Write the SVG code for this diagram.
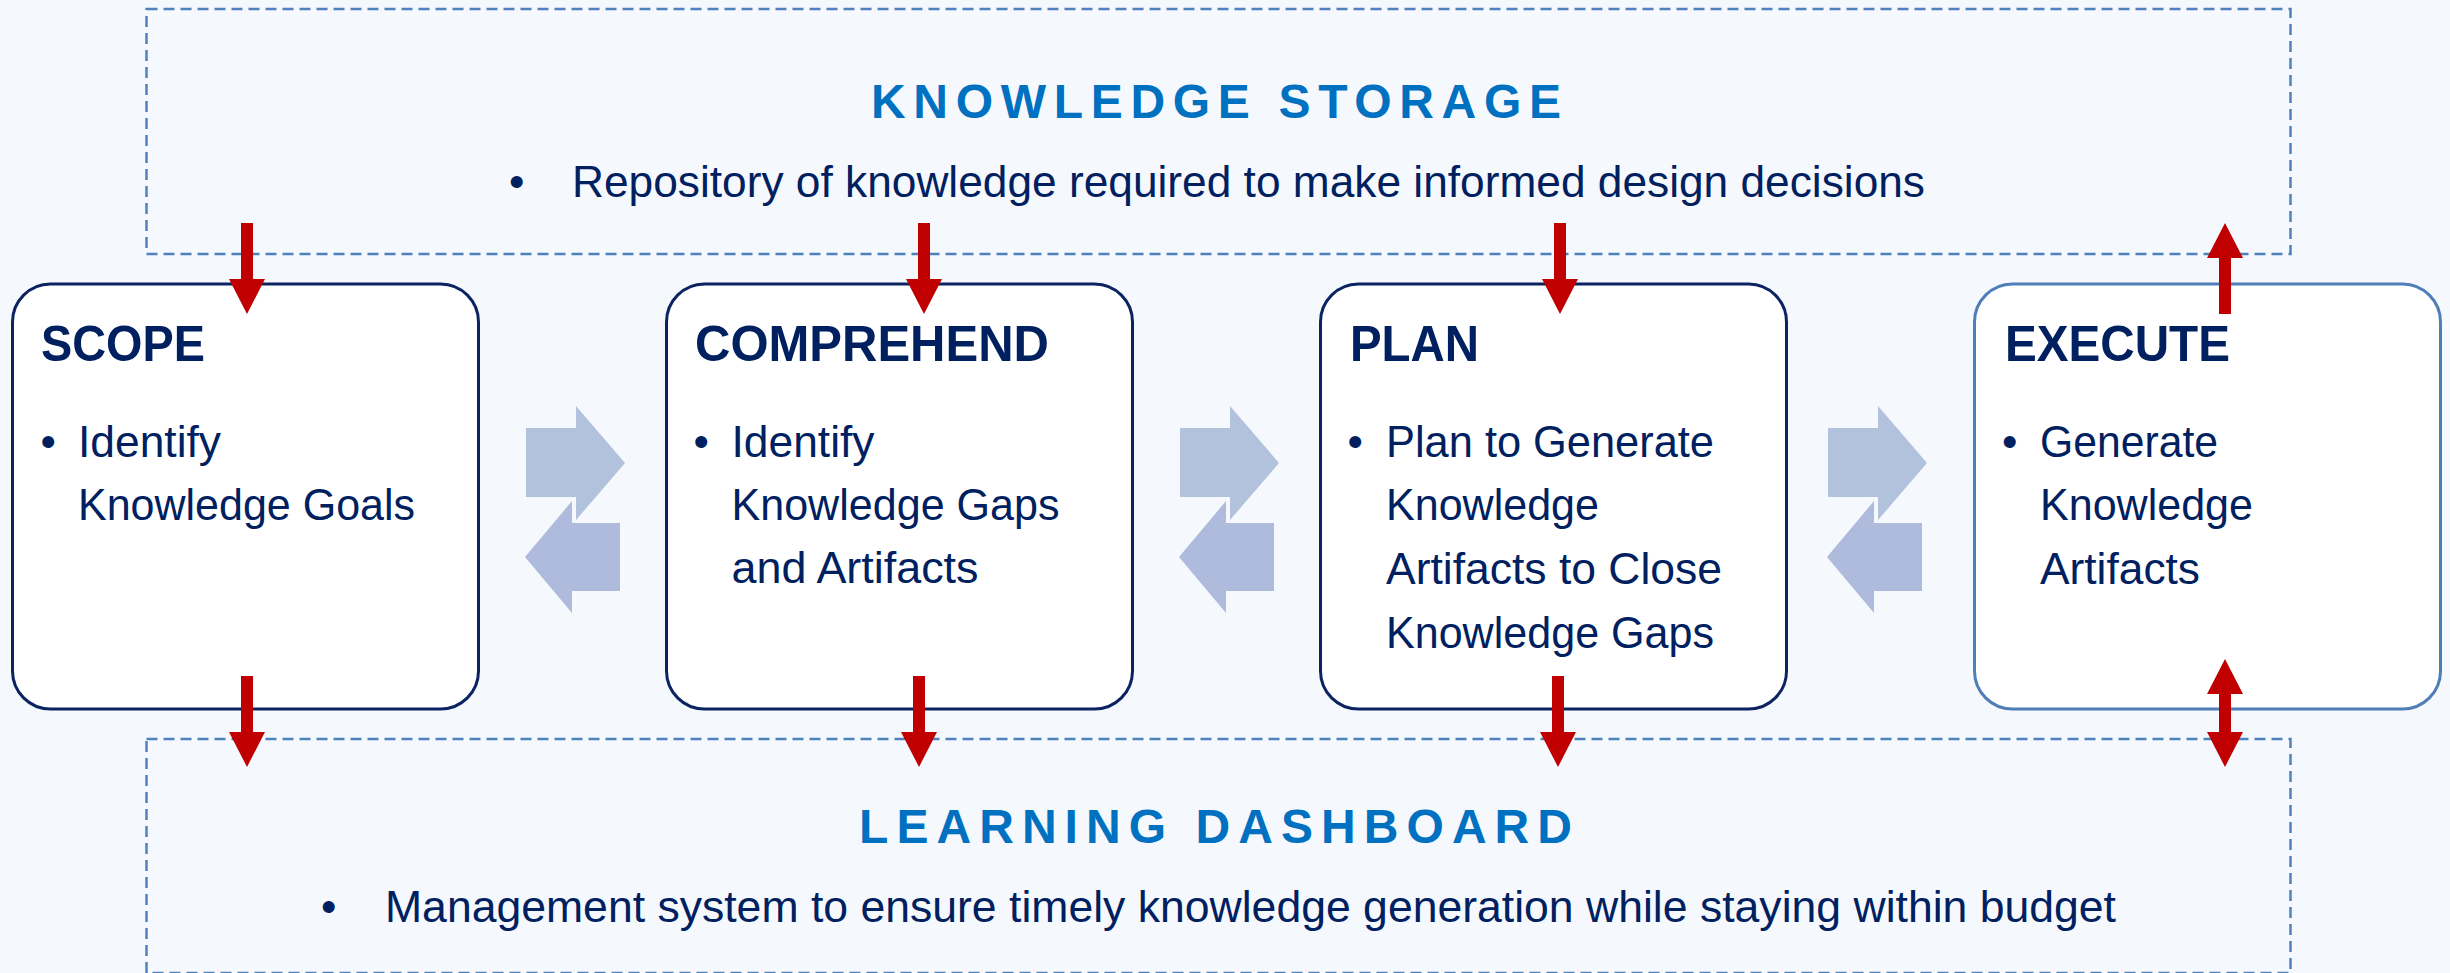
<svg xmlns="http://www.w3.org/2000/svg" xmlns:xlink="http://www.w3.org/1999/xlink" width="2450" height="973" viewBox="0 0 2450 973">
  <style>
    .txt { font-family: "Liberation Sans", Arial, sans-serif; fill: #002060; }
    .body { font-size: 44px; }
    .ttl { font-size: 50px; font-weight: bold; }
    .head { font-family: "Liberation Sans", Arial, sans-serif; font-size: 48px; font-weight: bold; fill: #0070C0; }
    .zone { fill: none; stroke: #4F81BD; stroke-width: 2.5; stroke-dasharray: 11 6; }
    .box { fill: #FFFFFF; stroke: #0B2361; stroke-width: 3; }
    .box-alt { fill: #FFFFFF; stroke: #4F7DB8; stroke-width: 3; }
    .flow { fill: #C00000; }
    .fwd { fill: #B2C1DC; }
    .back { fill: #AEBBDC; }
  </style>
  <defs>
    <!-- red arrow, shaft top at origin, pointing down -->
    <path id="arrowDown" d="M-6,0 H6 V56 H18 L0,91 L-18,56 H-6 Z"/>
    <!-- pair of pale exchange arrows between neighbouring steps -->
    <g id="swap">
      <path class="fwd" d="M526,428 H576 V406 L625,463 L576,520 V497 H526 Z"/>
      <path class="back" d="M620,523 H572 V501 L525,557 L572,613 V591 H620 Z"/>
    </g>
  </defs>

  <rect width="2450" height="973" fill="#F5F8FC"/>

  <g id="knowledge-storage">
    <rect class="zone" x="146.5" y="9" width="2144" height="245"/>
    <text class="head" x="871" y="118" textLength="690" lengthAdjust="spacing">KNOWLEDGE STORAGE</text>
    <text class="txt body" x="509" y="197">•</text>
    <text class="txt body" x="572" y="197" textLength="1353" lengthAdjust="spacingAndGlyphs">Repository of knowledge required to make informed design decisions</text>
  </g>

  <g id="learning-dashboard">
    <rect class="zone" x="146.5" y="739" width="2144" height="234"/>
    <text class="head" x="859" y="843" textLength="713" lengthAdjust="spacing">LEARNING DASHBOARD</text>
    <text class="txt body" x="321" y="922">•</text>
    <text class="txt body" x="385" y="922" textLength="1731" lengthAdjust="spacingAndGlyphs">Management system to ensure timely knowledge generation while staying within budget</text>
  </g>

  <g id="scope">
    <rect class="box" x="12.5" y="284" width="466" height="425" rx="38" ry="38"/>
    <text class="txt ttl" x="41" y="361" textLength="164" lengthAdjust="spacingAndGlyphs">SCOPE</text>
    <text class="txt body" x="40.5" y="457">•</text>
    <text class="txt body" x="78" y="457" textLength="143" lengthAdjust="spacingAndGlyphs">Identify</text>
    <text class="txt body" x="78" y="520" textLength="337" lengthAdjust="spacingAndGlyphs">Knowledge Goals</text>
  </g>

  <g id="comprehend">
    <rect class="box" x="666.5" y="284" width="466" height="425" rx="38" ry="38"/>
    <text class="txt ttl" x="695" y="361" textLength="354" lengthAdjust="spacingAndGlyphs">COMPREHEND</text>
    <text class="txt body" x="693.5" y="457">•</text>
    <text class="txt body" x="731.5" y="457" textLength="143" lengthAdjust="spacingAndGlyphs">Identify</text>
    <text class="txt body" x="731.5" y="520" textLength="328" lengthAdjust="spacingAndGlyphs">Knowledge Gaps</text>
    <text class="txt body" x="731.5" y="583" textLength="247" lengthAdjust="spacingAndGlyphs">and Artifacts</text>
  </g>

  <g id="plan">
    <rect class="box" x="1320.5" y="284" width="466" height="425" rx="38" ry="38"/>
    <text class="txt ttl" x="1350" y="361" textLength="129" lengthAdjust="spacingAndGlyphs">PLAN</text>
    <text class="txt body" x="1347.5" y="457">•</text>
    <text class="txt body" x="1386" y="457" textLength="328" lengthAdjust="spacingAndGlyphs">Plan to Generate</text>
    <text class="txt body" x="1386" y="520" textLength="213" lengthAdjust="spacingAndGlyphs">Knowledge</text>
    <text class="txt body" x="1386" y="584" textLength="336" lengthAdjust="spacingAndGlyphs">Artifacts to Close</text>
    <text class="txt body" x="1386" y="648" textLength="328" lengthAdjust="spacingAndGlyphs">Knowledge Gaps</text>
  </g>

  <g id="execute">
    <rect class="box-alt" x="1974.5" y="284" width="466" height="425" rx="38" ry="38"/>
    <text class="txt ttl" x="2005" y="361" textLength="225" lengthAdjust="spacingAndGlyphs">EXECUTE</text>
    <text class="txt body" x="2002" y="457">•</text>
    <text class="txt body" x="2040" y="457" textLength="178" lengthAdjust="spacingAndGlyphs">Generate</text>
    <text class="txt body" x="2040" y="520" textLength="213" lengthAdjust="spacingAndGlyphs">Knowledge</text>
    <text class="txt body" x="2040" y="584" textLength="160" lengthAdjust="spacingAndGlyphs">Artifacts</text>
  </g>

  <g id="connectors">
    <!-- exchange arrows between steps -->
    <use xlink:href="#swap" href="#swap"/>
    <use xlink:href="#swap" href="#swap" x="654"/>
    <use xlink:href="#swap" href="#swap" x="1302"/>

    <!-- storage feeding the steps -->
    <use class="flow" xlink:href="#arrowDown" href="#arrowDown" x="247" y="223"/>
    <use class="flow" xlink:href="#arrowDown" href="#arrowDown" x="924" y="223"/>
    <use class="flow" xlink:href="#arrowDown" href="#arrowDown" x="1560" y="223"/>
    <!-- execution returning knowledge to storage -->
    <use class="flow" xlink:href="#arrowDown" href="#arrowDown" transform="translate(2225,314) scale(1,-1)"/>

    <!-- steps reporting to the dashboard -->
    <use class="flow" xlink:href="#arrowDown" href="#arrowDown" x="247" y="676"/>
    <use class="flow" xlink:href="#arrowDown" href="#arrowDown" x="919" y="676"/>
    <use class="flow" xlink:href="#arrowDown" href="#arrowDown" x="1558" y="676"/>
    <path class="flow" d="M2225,659 L2243,694 H2231 V732 H2243 L2225,767 L2207,732 H2219 V694 H2207 Z"/>
  </g>
</svg>
